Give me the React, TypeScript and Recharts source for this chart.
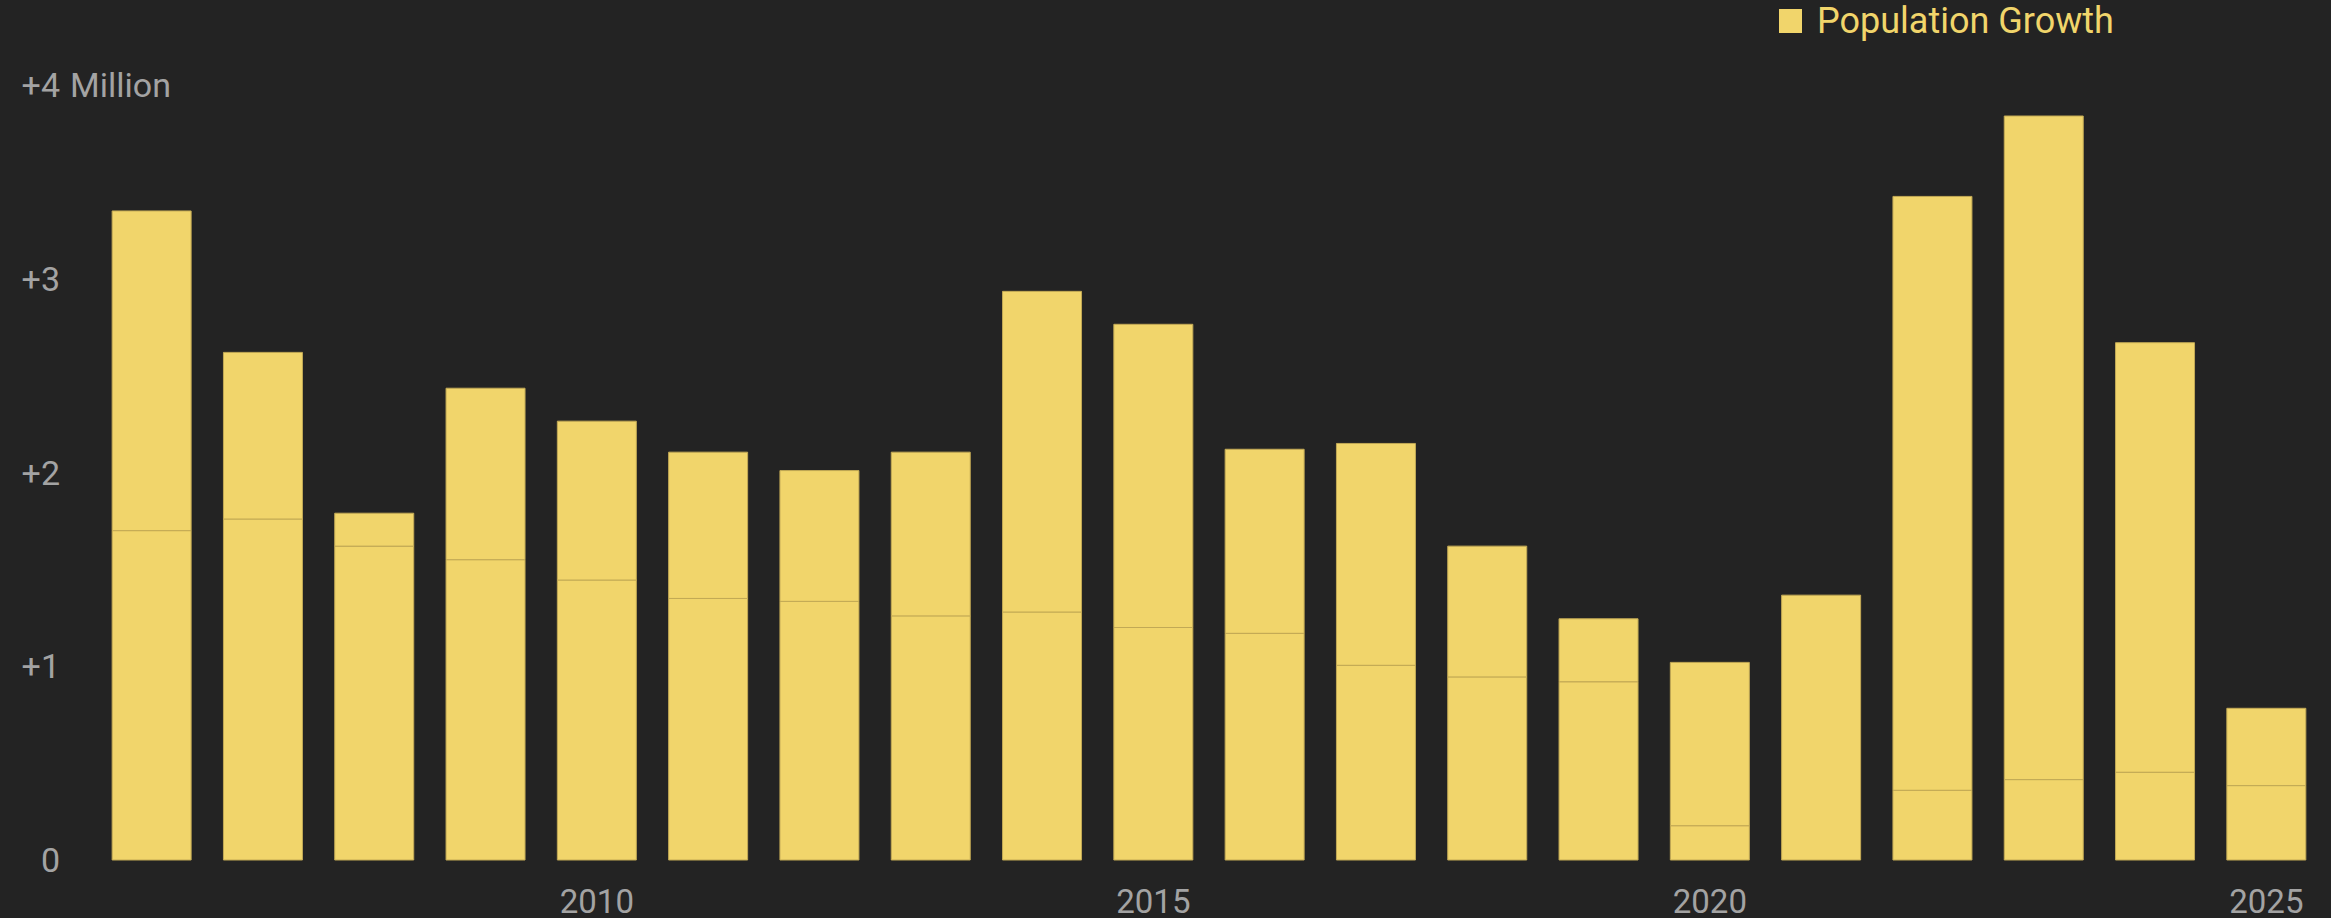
import { BarChart, Bar, XAxis, YAxis } from "recharts";

// yearly population growth, millions; split into the lower and upper stacked parts
const years = [
  2006, 2007, 2008, 2009, 2010, 2011, 2012, 2013, 2014, 2015,
  2016, 2017, 2018, 2019, 2020, 2021, 2022, 2023, 2024, 2025,
];
const lowerPart = [
  1.7, 1.76, 1.62, 1.55, 1.445, 1.35, 1.335, 1.26, 1.28, 1.2,
  1.17, 1.005, 0.945, 0.92, 0.177, 1.367, 0.36, 0.415, 0.453, 0.384,
];
const totalGrowth = [
  3.35, 2.62, 1.79, 2.435, 2.265, 2.105, 2.01, 2.105, 2.935, 2.765,
  2.12, 2.15, 1.62, 1.245, 1.02, 1.367, 3.425, 3.84, 2.67, 0.783,
];
const yTicks = [0, 1, 2, 3, 4];
const xLabelYears = [2010, 2015, 2020, 2025];

const BG = "#232323";
const BAR = "#f1d56b";
const EDGE = "#c2a955";
const LABEL = "#a3a3a3";
const FONT = "Roboto, 'Noto Sans', sans-serif";

const chartData = years.map((year, i) => ({
  year,
  lower: lowerPart[i],
  upper: +(totalGrowth[i] - lowerPart[i]).toFixed(3),
}));

function YTick(props: any) {
  const { y, payload } = props;
  const v = payload.value;
  const label = v === 0 ? "0" : `+${v}`;
  return (
    <g>
      <text x={60} y={y + 12} textAnchor="end" fill={LABEL} fontSize={34} fontFamily={FONT}>
        {label}
      </text>
      {v === 4 && (
        <text x={70} y={y + 12} textAnchor="start" fill={LABEL} fontSize={34} fontFamily={FONT}>
          Million
        </text>
      )}
    </g>
  );
}

function XTick(props: any) {
  const { x, y, payload } = props;
  if (!xLabelYears.includes(payload.value)) return null;
  return (
    <text x={x} y={y + 53} textAnchor="middle" fill={LABEL} fontSize={33} fontFamily={FONT}>
      {payload.value}
    </text>
  );
}

export default function App() {
  return (
    <div style={{ position: "absolute", left: 0, top: 0, width: 2331, height: 918, background: BG }}>
      <div
        style={{
          position: "absolute",
          top: 0,
          left: 1779,
          display: "flex",
          alignItems: "center",
          fontFamily: FONT,
          height: 42,
        }}
      >
        <span style={{ width: 23, height: 24, background: BAR, display: "inline-block" }} />
        <span style={{ marginLeft: 15, color: BAR, fontSize: 36, lineHeight: "42px" }}>
          Population Growth
        </span>
      </div>
      <BarChart
        width={2331}
        height={918}
        data={chartData}
        margin={{ top: 85, right: 9, left: 0, bottom: 0 }}
        barCategoryGap="14.5%"
      >
        <XAxis
          dataKey="year"
          height={58}
          interval={0}
          tick={<XTick />}
          tickLine={false}
          axisLine={false}
          tickSize={0}
          tickMargin={0}
        />
        <YAxis
          width={96}
          domain={[0, 4]}
          ticks={yTicks}
          tick={<YTick />}
          tickLine={false}
          axisLine={false}
        />
        <Bar
          dataKey="lower"
          name="Population Growth"
          stackId="g"
          fill={BAR}
          stroke={EDGE}
          strokeWidth={1}
          isAnimationActive={false}
        />
        <Bar
          dataKey="upper"
          stackId="g"
          fill={BAR}
          stroke={EDGE}
          strokeWidth={1}
          isAnimationActive={false}
        />
      </BarChart>
    </div>
  );
}
